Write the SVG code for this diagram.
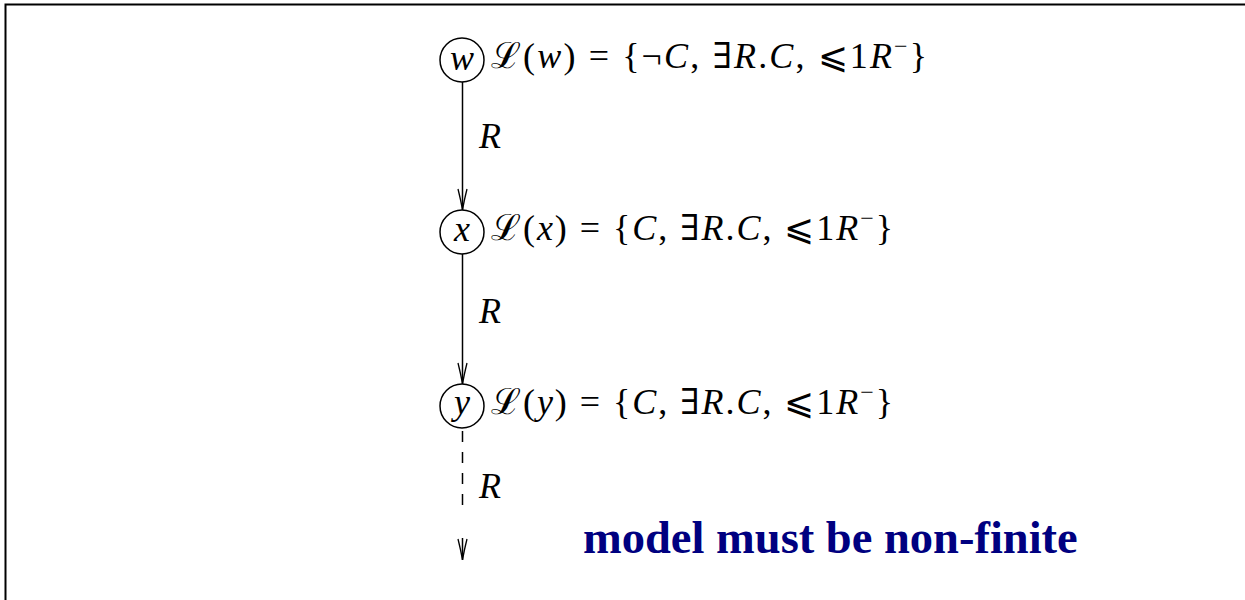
<svg xmlns="http://www.w3.org/2000/svg" width="1245" height="600" viewBox="0 0 1245 600">
<style>
.node{fill:none;stroke:#000;stroke-width:1.5}
.math{font-family:"Liberation Serif","DejaVu Serif",serif;font-size:36px;fill:#000}
.it{font-style:italic}
.sup{font-size:24px}
.edge{stroke:#000;stroke-width:1.5;fill:none}
.dash{stroke-dasharray:11 10}
.note{font-family:"Liberation Serif",serif;font-weight:bold;font-size:46.5px;fill:#000080}
</style>
<defs>
<marker id="arr" markerUnits="userSpaceOnUse" markerWidth="24" markerHeight="14" viewBox="-22 -7 24 14" refX="0" refY="0" orient="auto">
<path d="M-21,-4.5 Q-9,-1.5 0,0 Q-9,1.5 -21,4.5" fill="none" stroke="#000" stroke-width="1.3"/>
</marker>
</defs>
<rect width="1245" height="600" fill="#fff"/>
<path d="M5.5,600 V4.5 H1245" fill="none" stroke="#000" stroke-width="2"/>
<g id="connectors">
<line class="edge" x1="462.5" y1="82" x2="462.5" y2="210" marker-end="url(#arr)"/>
<line class="edge" x1="462.5" y1="254" x2="462.5" y2="384" marker-end="url(#arr)"/>
<line class="edge dash" x1="462.5" y1="431" x2="462.5" y2="515"/>
<line class="edge" x1="462.5" y1="538" x2="462.5" y2="560" marker-end="url(#arr)"/>
<text class="math it" x="479" y="148" font-size="34">R</text>
<text class="math it" x="479" y="323" font-size="34">R</text>
<text class="math it" x="479" y="498" font-size="34">R</text>
</g>
<g id="node-w">
<circle class="node" cx="462" cy="60" r="22"/>
<text class="math it" x="462" y="70" text-anchor="middle" font-size="35">w</text>
<text class="math" x="491" y="68" textLength="436" lengthAdjust="spacing">ℒ(<tspan class="it">w</tspan>) = {¬<tspan class="it">C</tspan>, ∃<tspan class="it">R</tspan>.<tspan class="it">C</tspan>, ⩽1<tspan class="it">R</tspan><tspan class="sup" dy="-14">−</tspan><tspan dy="14">}</tspan></text>
</g>
<g id="node-x">
<circle class="node" cx="462" cy="232" r="22"/>
<text class="math it" x="462" y="241" text-anchor="middle" font-size="35">x</text>
<text class="math" x="491" y="240" textLength="402" lengthAdjust="spacing">ℒ(<tspan class="it">x</tspan>) = {<tspan class="it">C</tspan>, ∃<tspan class="it">R</tspan>.<tspan class="it">C</tspan>, ⩽1<tspan class="it">R</tspan><tspan class="sup" dy="-14">−</tspan><tspan dy="14">}</tspan></text>
</g>
<g id="node-y">
<circle class="node" cx="462" cy="406" r="22"/>
<text class="math it" x="462" y="414" text-anchor="middle" font-size="35">y</text>
<text class="math" x="491" y="414" textLength="402" lengthAdjust="spacing">ℒ(<tspan class="it">y</tspan>) = {<tspan class="it">C</tspan>, ∃<tspan class="it">R</tspan>.<tspan class="it">C</tspan>, ⩽1<tspan class="it">R</tspan><tspan class="sup" dy="-14">−</tspan><tspan dy="14">}</tspan></text>
</g>
<text class="note" x="583" y="553">model must be non-finite</text>
</svg>
